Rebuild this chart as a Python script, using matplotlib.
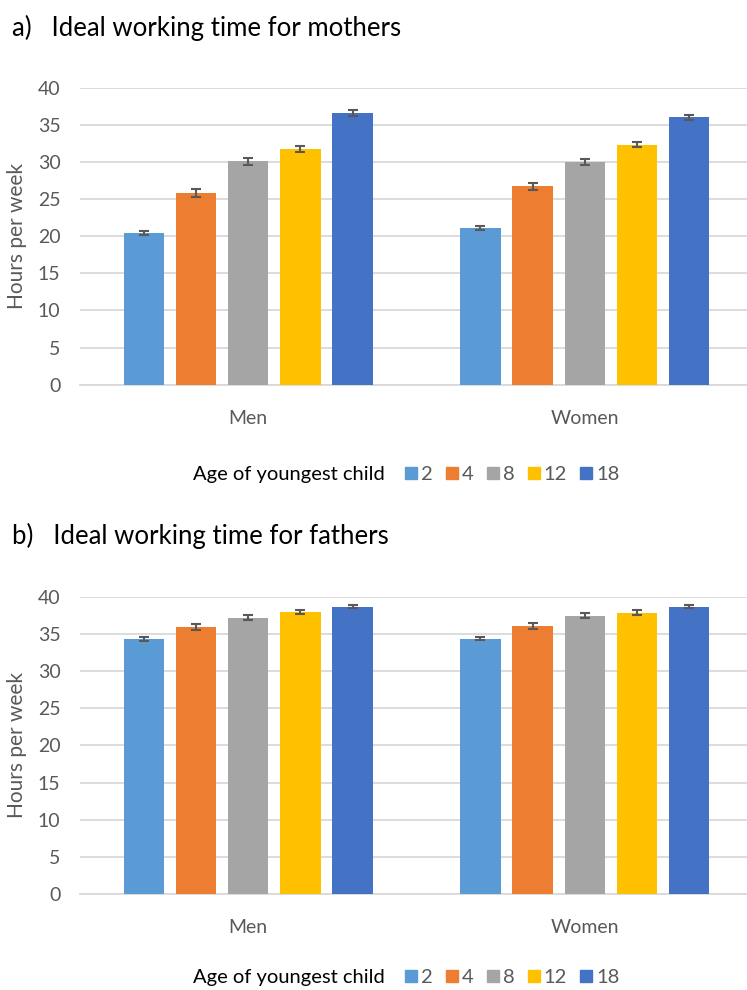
import matplotlib
matplotlib.use('Agg')
import matplotlib.pyplot as plt
import numpy as np
from matplotlib.lines import Line2D

plt.rcParams['font.family'] = ['Lato', 'DejaVu Sans']

# data
groups = ['Men', 'Women']
ages = ['2', '4', '8', '12', '18']
colors = ['#5B9BD5', '#ED7D31', '#A5A5A5', '#FFC000', '#4472C4']

mothers = [[20.4, 21.1],
           [25.8, 26.7],
           [30.1, 30.0],
           [31.7, 32.3],
           [36.6, 36.0]]
mothers_err = [[0.3, 0.25],
               [0.5, 0.45],
               [0.5, 0.4],
               [0.4, 0.35],
               [0.35, 0.3]]

fathers = [[34.3, 34.4],
           [36.0, 36.1],
           [37.2, 37.5],
           [38.0, 37.9],
           [38.7, 38.7]]
fathers_err = [[0.25, 0.25],
               [0.4, 0.4],
               [0.35, 0.35],
               [0.3, 0.3],
               [0.25, 0.25]]

titles = ['a)   Ideal working time for mothers', 'b)   Ideal working time for fathers']
yticks = [0, 5, 10, 15, 20, 25, 30, 35, 40]

grid_col = '#D9D9D9'
txt_col = '#595959'

fig = plt.figure(figsize=(7.47, 9.9), dpi=100)

# axes boxes: [left, bottom, width, height] in figure fractions
# (the plot area runs a little past the right edge, as in the original crop)
boxes = [[0.107, 0.6114, 0.901, 0.300],
         [0.107, 0.0970, 0.901, 0.300]]
title_y = [0.972, 0.459]
legend_y = [0.521, 0.013]

step = 0.155
width = 0.12
x = np.arange(len(groups))

for k, (vals, errs) in enumerate([(mothers, mothers_err), (fathers, fathers_err)]):
    ax = fig.add_axes(boxes[k])
    for i in range(len(ages)):
        off = (i - 2) * step
        ax.bar(x + off, vals[i], width, color=colors[i], zorder=3,
               yerr=errs[i], capsize=3.6,
               error_kw=dict(ecolor='#595959', elinewidth=1.5, capthick=1.5, zorder=4))
    ax.set_xlim(-0.5, 1.5)
    ax.set_ylim(0, 40)
    ax.set_yticks(yticks)
    ax.set_xticks(x)
    ax.set_xticklabels(groups)
    ax.grid(axis='y', color=grid_col, linewidth=1.3, zorder=0)
    for s in ['top', 'right', 'left']:
        ax.spines[s].set_visible(False)
    ax.spines['bottom'].set_color(grid_col)
    ax.spines['bottom'].set_linewidth(1.3)
    ax.tick_params(axis='both', length=0, labelsize=14, colors=txt_col)
    ax.tick_params(axis='x', pad=18)
    ax.tick_params(axis='y', pad=14)
    ax.set_ylabel('Hours per week', fontsize=15, color=txt_col, labelpad=8)

    fig.text(0.016, title_y[k], titles[k], fontsize=18.5, color='black', va='center')

    fig.text(0.259, legend_y[k], 'Age of youngest child', fontsize=14.5, color='black', va='center')
    handles = [Line2D([], [], marker='s', linestyle='none', markersize=8,
                      markerfacecolor=c, markeredgecolor=c) for c in colors]
    fig.legend(handles, ages, loc='center left', bbox_to_anchor=(0.542, legend_y[k]),
               ncol=5, frameon=False, fontsize=14.5, labelcolor=txt_col,
               handlelength=0.6, handletextpad=0.2, columnspacing=0.65,
               borderpad=0, borderaxespad=0)

fig.savefig('out.png', dpi=100)
